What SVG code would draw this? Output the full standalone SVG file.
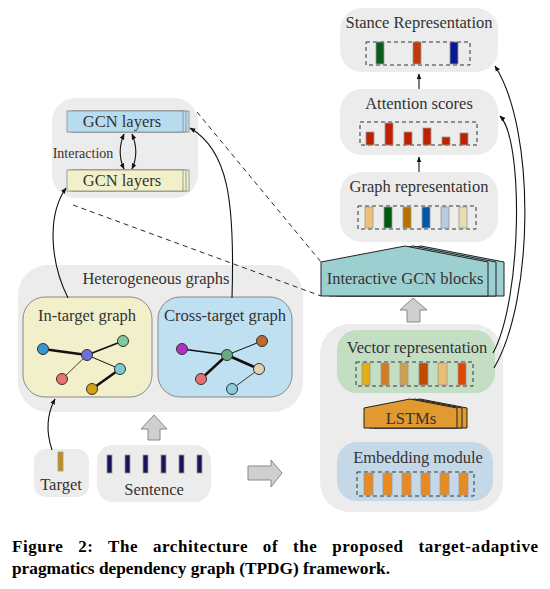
<svg xmlns="http://www.w3.org/2000/svg" width="550" height="589" viewBox="0 0 550 589">
<style>
text{font-family:"Liberation Serif","Times New Roman",serif;fill:#333;font-size:16.5px;text-anchor:middle}
.panel{fill:#ECECEC;stroke:none}
.dash{fill:none;stroke:#333;stroke-width:1;stroke-dasharray:4,3}
.bar{stroke:#999;stroke-width:0.8}
.edge{stroke:#111;fill:none}
.node{stroke:#333;stroke-width:1}
.conn{fill:none;stroke:#111;stroke-width:1.1}
.dl{fill:none;stroke:#111;stroke-width:0.9;stroke-dasharray:5,4}
.garrow{fill:#CFCFCF;stroke:#888;stroke-width:1}
.cap{font-family:"Liberation Serif","Times New Roman",serif;font-weight:bold;font-size:17px;fill:#000;text-anchor:start}
</style>
<defs>
<marker id="ah" viewBox="0 0 10 10" refX="9" refY="5" markerWidth="6" markerHeight="6" orient="auto-start-reverse" markerUnits="userSpaceOnUse">
<path d="M0,1 L10,5 L0,9 z" fill="#111"/>
</marker>
</defs>

<!-- Stance representation -->
<g id="stance">
<rect class="panel" x="340" y="8" width="158" height="64" rx="22"/>
<text x="419" y="28">Stance Representation</text>
<rect class="dash" x="366" y="42" width="104" height="23"/>
<rect class="bar" x="376" y="42" width="8" height="22" fill="#0B5A1E"/>
<rect class="bar" x="413" y="42" width="8" height="22" fill="#C03A10"/>
<rect class="bar" x="450" y="42" width="8" height="22" fill="#0A1A90"/>
</g>

<!-- Attention scores -->
<g id="attention">
<rect class="panel" x="340" y="89" width="158" height="66" rx="22"/>
<text x="419" y="109">Attention scores</text>
<rect class="dash" x="360" y="122" width="117" height="23"/>
<rect class="bar" x="366" y="132" width="8" height="13" fill="#C02000"/>
<rect class="bar" x="385" y="123" width="8" height="22" fill="#C02000"/>
<rect class="bar" x="404" y="132" width="8" height="13" fill="#C02000"/>
<rect class="bar" x="423" y="128" width="8" height="17" fill="#C02000"/>
<rect class="bar" x="442" y="137" width="8" height="8" fill="#C02000"/>
<rect class="bar" x="460" y="133" width="8" height="12" fill="#C02000"/>
</g>

<!-- Graph representation -->
<g id="graphrep">
<rect class="panel" x="340" y="172" width="158" height="70" rx="22"/>
<text x="419" y="192">Graph representation</text>
<rect class="dash" x="358" y="206" width="118" height="23"/>
<rect class="bar" x="365" y="207" width="8" height="21" fill="#F0C07A"/>
<rect class="bar" x="384" y="207" width="8" height="21" fill="#005A10"/>
<rect class="bar" x="403" y="207" width="8" height="21" fill="#B87200"/>
<rect class="bar" x="422" y="207" width="8" height="21" fill="#0058A8"/>
<rect class="bar" x="441" y="207" width="8" height="21" fill="#B8CCE0"/>
<rect class="bar" x="459" y="207" width="8" height="21" fill="#E6DEB0"/>
</g>

<!-- Interactive GCN blocks -->
<g id="igcn">
<polygon points="337,296 337,262 421,246 504,262 504,296" fill="#9CCFD0" stroke="#222" stroke-width="1"/>
<polygon points="329,296 329,262 413,246 496,262 496,296" fill="#9CCFD0" stroke="#222" stroke-width="1"/>
<polygon points="321,296 321,262 405,246 488,262 488,296" fill="#9CCFD0" stroke="#222" stroke-width="1"/>
<text x="405" y="284">Interactive GCN blocks</text>
</g>

<!-- Big right panel -->
<g id="encoder">
<rect class="panel" x="320" y="324" width="183" height="188" rx="30"/>
</g>

<g id="vecrep">
<rect x="337" y="330" width="158" height="63" rx="20" fill="#C4DEC4"/>
<text x="417" y="353">Vector representation</text>
<rect class="dash" x="356" y="362" width="117" height="24"/>
<rect class="bar" x="362" y="363" width="8" height="22" fill="#E0B010"/>
<rect class="bar" x="381" y="363" width="8" height="22" fill="#D47A20"/>
<rect class="bar" x="400" y="363" width="8" height="22" fill="#D0A050"/>
<rect class="bar" x="419" y="363" width="9" height="22" fill="#C04A00"/>
<rect class="bar" x="438" y="363" width="9" height="22" fill="#E8C070"/>
<rect class="bar" x="458" y="363" width="8" height="22" fill="#E04800"/>
</g>

<g id="lstm">
<polygon points="374,428 374,408 420,399 467,408 467,428" fill="#E09A30" stroke="#222" stroke-width="1"/>
<polygon points="369,428 369,408 415,399 462,408 462,428" fill="#E09A30" stroke="#222" stroke-width="1"/>
<polygon points="364,428 364,408 410,399 457,408 457,428" fill="#E09A30" stroke="#222" stroke-width="1"/>
<text x="411" y="424">LSTMs</text>
</g>

<g id="embed">
<rect x="337" y="442" width="156" height="59" rx="20" fill="#C5D8E8"/>
<text x="418" y="463">Embedding module</text>
<rect class="dash" x="357" y="472" width="117" height="24"/>
<rect class="bar" x="364" y="473" width="9" height="22" fill="#E88A22"/>
<rect class="bar" x="383" y="473" width="9" height="22" fill="#E88A22"/>
<rect class="bar" x="402" y="473" width="9" height="22" fill="#E88A22"/>
<rect class="bar" x="421" y="473" width="9" height="22" fill="#E88A22"/>
<rect class="bar" x="440" y="473" width="9" height="22" fill="#E88A22"/>
<rect class="bar" x="459" y="473" width="9" height="22" fill="#E88A22"/>
</g>

<!-- GCN layers panel -->
<g id="gcn">
<rect class="panel" x="52" y="98" width="146" height="100" rx="24"/>
<rect x="73" y="111" width="116" height="21" fill="#B8DCEF" stroke="#888" stroke-width="0.8"/>
<rect x="70" y="111" width="116" height="21" fill="#B8DCEF" stroke="#888" stroke-width="0.8"/>
<rect x="67" y="111" width="116" height="21" fill="#B8DCEF" stroke="#888" stroke-width="0.8"/>
<text x="122" y="127">GCN layers</text>
<rect x="73" y="170" width="116" height="21" fill="#F2F0C8" stroke="#888" stroke-width="0.8"/>
<rect x="70" y="170" width="116" height="21" fill="#F2F0C8" stroke="#888" stroke-width="0.8"/>
<rect x="67" y="170" width="116" height="21" fill="#F2F0C8" stroke="#888" stroke-width="0.8"/>
<text x="122" y="186">GCN layers</text>
<text x="83" y="158" style="font-size:14px">Interaction</text>
</g>

<!-- Heterogeneous graphs -->
<g id="hetero">
<rect class="panel" x="18" y="265" width="285" height="147" rx="30"/>
<text x="156" y="284">Heterogeneous graphs</text>
</g>

<g id="intarget">
<rect x="23" y="297" width="129" height="100" rx="22" fill="#F2F0CB" stroke="#888" stroke-width="1"/>
<text x="87" y="321">In-target graph</text>
<line class="edge" x1="43" y1="349" x2="87" y2="355" stroke-width="2.5"/>
<line class="edge" x1="87" y1="355" x2="123" y2="341" stroke-width="1.8"/>
<line class="edge" x1="87" y1="355" x2="62" y2="379" stroke-width="0.8"/>
<line class="edge" x1="87" y1="355" x2="120" y2="369" stroke-width="1"/>
<line class="edge" x1="120" y1="369" x2="92" y2="389" stroke-width="2.5"/>
<circle class="node" cx="43" cy="349" r="5.5" fill="#3399CC"/>
<circle class="node" cx="87" cy="355" r="5.5" fill="#7070D8"/>
<circle class="node" cx="123" cy="341" r="5.5" fill="#80C8A0"/>
<circle class="node" cx="120" cy="369" r="5.5" fill="#80C8D0"/>
<circle class="node" cx="62" cy="379" r="5.5" fill="#E87070"/>
<circle class="node" cx="92" cy="389" r="5.5" fill="#D4A017"/>
</g>

<g id="crosstarget">
<rect x="158" y="297" width="134" height="100" rx="22" fill="#BFE0F0" stroke="#888" stroke-width="1"/>
<text x="225" y="321">Cross-target graph</text>
<line class="edge" x1="182" y1="349" x2="227" y2="355" stroke-width="1.6"/>
<line class="edge" x1="227" y1="355" x2="262" y2="341" stroke-width="1"/>
<line class="edge" x1="227" y1="355" x2="259" y2="369" stroke-width="2.8"/>
<line class="edge" x1="227" y1="355" x2="201" y2="379" stroke-width="2.5"/>
<line class="edge" x1="259" y1="369" x2="232" y2="389" stroke-width="0.8"/>
<circle class="node" cx="182" cy="349" r="5.5" fill="#B030C8"/>
<circle class="node" cx="227" cy="355" r="5.5" fill="#6AAA80"/>
<circle class="node" cx="262" cy="341" r="5.5" fill="#C06830"/>
<circle class="node" cx="259" cy="369" r="5.5" fill="#E2D2B2"/>
<circle class="node" cx="201" cy="379" r="5.5" fill="#E87070"/>
<circle class="node" cx="232" cy="389" r="5.5" fill="#88CCDD"/>
</g>

<!-- Target -->
<g id="target">
<rect class="panel" x="34" y="449" width="55" height="48" rx="12"/>
<rect class="bar" x="58" y="452" width="5" height="19" fill="#C09010"/>
<text x="61" y="490">Target</text>
</g>

<!-- Sentence -->
<g id="sentence">
<rect class="panel" x="97" y="445" width="114" height="57" rx="16"/>
<rect class="bar" x="107" y="455" width="5" height="18" fill="#15155A"/>
<rect class="bar" x="125" y="455" width="5" height="18" fill="#15155A"/>
<rect class="bar" x="143" y="455" width="5" height="18" fill="#15155A"/>
<rect class="bar" x="161" y="455" width="5" height="18" fill="#15155A"/>
<rect class="bar" x="179" y="455" width="5" height="18" fill="#15155A"/>
<rect class="bar" x="197" y="455" width="5" height="18" fill="#15155A"/>
<text x="154" y="495">Sentence</text>
</g>

<!-- Connectors -->
<g id="connectors">
<line class="conn" x1="419" y1="89" x2="419" y2="74" marker-end="url(#ah)"/>
<line class="conn" x1="419" y1="172" x2="419" y2="157" marker-end="url(#ah)"/>
<path class="conn" d="M494,368 C534,300 536,130 495,66" marker-end="url(#ah)"/>
<path class="conn" d="M493,353 C522,300 524,140 500,116" marker-end="url(#ah)"/>
<path class="conn" d="M232,298 C235,200 228,150 190,128" marker-end="url(#ah)"/>
<path class="conn" d="M68,298 C50,262 47,215 66,188" marker-end="url(#ah)"/>
<path class="conn" d="M52,450 C46,432 47,414 55,399" marker-end="url(#ah)"/>
<path class="conn" d="M124,134 C119,146 119,158 124,169" marker-start="url(#ah)" marker-end="url(#ah)"/>
<path class="conn" d="M132,134 C137,146 137,158 132,169" marker-start="url(#ah)" marker-end="url(#ah)"/>
<line class="dl" x1="197" y1="112" x2="321" y2="262"/>
<line class="dl" x1="73" y1="205" x2="321" y2="296"/>
<polygon class="garrow" points="413,298 427,310 420,310 420,322 407,322 407,310 400,310"/>
<polygon class="garrow" points="154,415 167,429 160,429 160,440 148,440 148,429 141,429"/>
<polygon class="garrow" points="282,473 271,460 271,466 248,466 248,480 271,480 271,487"/>
</g>

<!-- Caption -->
<text class="cap" x="12" y="552" style="word-spacing:10px" textLength="526" lengthAdjust="spacing">Figure 2: The architecture of the proposed target-adaptive</text>
<text class="cap" x="12" y="574" textLength="378" lengthAdjust="spacingAndGlyphs">pragmatics dependency graph (TPDG) framework.</text>
</svg>
